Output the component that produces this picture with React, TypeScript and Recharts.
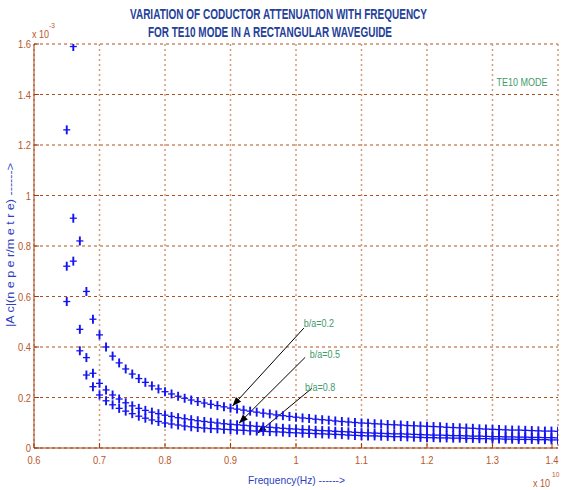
import React from 'react';
import { ScatterChart, Scatter, XAxis, YAxis, CartesianGrid, ReferenceLine, ReferenceDot } from 'recharts';

// frequency in units of 1e10 Hz
const freqs = [
  0.65, 0.66, 0.67, 0.68, 0.69, 0.7, 0.71, 0.72, 0.73, 0.74, 0.75, 0.76, 0.77, 0.78, 0.79,
  0.8, 0.81, 0.82, 0.83, 0.84, 0.85, 0.86, 0.87, 0.88, 0.89, 0.9, 0.91, 0.92, 0.93, 0.94,
  0.95, 0.96, 0.97, 0.98, 0.99, 1.0, 1.01, 1.02, 1.03, 1.04, 1.05, 1.06, 1.07, 1.08, 1.09,
  1.1, 1.11, 1.12, 1.13, 1.14, 1.15, 1.16, 1.17, 1.18, 1.19, 1.2, 1.21, 1.22, 1.23, 1.24,
  1.25, 1.26, 1.27, 1.28, 1.29, 1.3, 1.31, 1.32, 1.33, 1.34, 1.35, 1.36, 1.37, 1.38, 1.39, 1.4,
];

// attenuation in units of 1e-3 neper/metre
const ba02 = [
  1.26, 1.59, 0.82, 0.62, 0.51, 0.448, 0.4, 0.364, 0.337, 0.313, 0.293, 0.275, 0.26, 0.246, 0.234,
  0.223, 0.214, 0.205, 0.197, 0.19, 0.184, 0.178, 0.173, 0.168, 0.163, 0.158, 0.154, 0.15, 0.146, 0.142,
  0.138, 0.135, 0.131, 0.128, 0.125, 0.122, 0.119, 0.117, 0.114, 0.112, 0.11, 0.107, 0.105, 0.103, 0.101,
  0.099, 0.098, 0.096, 0.095, 0.093, 0.092, 0.091, 0.089, 0.088, 0.087, 0.086, 0.085, 0.084, 0.082, 0.081,
  0.08, 0.079, 0.078, 0.076, 0.075, 0.074, 0.073, 0.072, 0.071, 0.071, 0.07, 0.069, 0.068, 0.067, 0.067, 0.066,
];

const ba05 = [
  0.72, 0.91, 0.47, 0.358, 0.296, 0.256, 0.23, 0.21, 0.194, 0.179, 0.167, 0.157, 0.149, 0.142, 0.136,
  0.13, 0.125, 0.12, 0.116, 0.112, 0.108, 0.105, 0.102, 0.099, 0.096, 0.094, 0.092, 0.09, 0.088, 0.086,
  0.084, 0.082, 0.08, 0.078, 0.076, 0.075, 0.073, 0.072, 0.07, 0.069, 0.068, 0.066, 0.065, 0.064, 0.062,
  0.061, 0.06, 0.059, 0.058, 0.057, 0.056, 0.056, 0.055, 0.054, 0.053, 0.052, 0.051, 0.051, 0.05, 0.049,
  0.049, 0.048, 0.047, 0.047, 0.046, 0.045, 0.045, 0.044, 0.044, 0.043, 0.043, 0.042, 0.042, 0.041, 0.041, 0.04,
];

const ba08 = [
  0.58, 0.74, 0.385, 0.289, 0.243, 0.21, 0.187, 0.171, 0.157, 0.146, 0.136, 0.126, 0.118, 0.111, 0.105,
  0.099, 0.095, 0.091, 0.087, 0.084, 0.081, 0.079, 0.077, 0.076, 0.074, 0.073, 0.071, 0.07, 0.068, 0.067,
  0.066, 0.065, 0.064, 0.063, 0.061, 0.06, 0.059, 0.058, 0.057, 0.056, 0.055, 0.054, 0.053, 0.051, 0.05,
  0.049, 0.048, 0.048, 0.047, 0.046, 0.045, 0.045, 0.044, 0.043, 0.042, 0.041, 0.041, 0.04, 0.04, 0.039,
  0.039, 0.038, 0.038, 0.037, 0.037, 0.036, 0.036, 0.035, 0.035, 0.034, 0.034, 0.034, 0.033, 0.033, 0.032, 0.032,
];

const xTicks = [0.6, 0.7, 0.8, 0.9, 1, 1.1, 1.2, 1.3, 1.4];
const yTicks = [0, 0.2, 0.4, 0.6, 0.8, 1, 1.2, 1.4, 1.6];

// annotation arrows: label, label pos, arrow start, arrow tip (data units)
const notes = [
  { label: 'b/a=0.2', at: [1.035, 0.496], from: [1.012, 0.475], to: [0.903, 0.166] },
  { label: 'b/a=0.5', at: [1.044, 0.371], from: [1.014, 0.359], to: [0.913, 0.098] },
  { label: 'b/a=0.8', at: [1.037, 0.243], from: [1.024, 0.236], to: [0.941, 0.058] },
];

const toPoints = (vals: number[]) => freqs.map((f, i) => ({ x: f, y: vals[i] }));

const font = "'Liberation Sans', Arial, sans-serif";
const axisColor = '#A23C0C';
const tickColor = '#B8582A';
const green = '#3F9A6C';
const blue = '#2E3FC0';
const NARROW = 0.82;

// narrow text (mimics Arial Narrow)
const NText = ({ x, y, anchor = 'start', size = 11, color, weight, children }: any) => (
  <text
    transform={`translate(${x},${y}) scale(${NARROW},1)`}
    textAnchor={anchor}
    fill={color}
    fontSize={size}
    fontWeight={weight}
    fontFamily={font}
  >
    {children}
  </text>
);

const Plus = (props: any) => {
  const { cx, cy } = props;
  return (
    <g stroke="#1414F0">
      <line x1={cx} y1={cy - 4.5} x2={cx} y2={cy + 4.5} strokeWidth={1.9} />
      <line x1={cx - 3.5} y1={cy} x2={cx + 3.5} y2={cy} strokeWidth={1.3} />
    </g>
  );
};

const fmt = (v: number) => String(Math.round(v * 10) / 10);

const YTick = (props: any) => {
  const { x, y, payload } = props;
  return (
    <g>
      <line x1={x + 3} y1={y} x2={x + 8} y2={y} stroke={axisColor} />
      <NText x={x} y={y + 4} anchor="end" size={11.5} color={tickColor}>
        {fmt(payload.value)}
      </NText>
    </g>
  );
};

const XTick = (props: any) => {
  const { x, y, payload } = props;
  return (
    <g>
      <line x1={x} y1={y - 4} x2={x} y2={y - 9} stroke={axisColor} />
      <NText x={x} y={y + 12} anchor="middle" size={11.5} color={tickColor}>
        {fmt(payload.value)}
      </NText>
    </g>
  );
};

const Arrow = (props: any) => {
  const { x1, y1, x2, y2 } = props;
  const a = Math.atan2(y2 - y1, x2 - x1);
  const len = 9;
  const w = 3.5;
  const bx = x2 - len * Math.cos(a);
  const by = y2 - len * Math.sin(a);
  const px = -Math.sin(a) * w;
  const py = Math.cos(a) * w;
  return (
    <g>
      <line x1={x1} y1={y1} x2={x2} y2={y2} stroke="#000" strokeWidth={1} />
      <polygon points={`${x2},${y2} ${bx + px},${by + py} ${bx - px},${by - py}`} fill="#000" />
    </g>
  );
};

const Label = (text: string, color: string) => (props: any) => (
  <NText x={props.cx} y={props.cy + 4} anchor="middle" color={color}>
    {text}
  </NText>
);

export default function App() {
  return (
    <div style={{ position: 'absolute', left: 0, top: 0, width: 562, height: 490, background: '#fff' }}>
      <ScatterChart width={562} height={490} margin={{ top: 44, right: 4, left: 0, bottom: 0 }}>
        <CartesianGrid vertical={false} stroke="#B0501E" strokeDasharray="3 3" />
        <CartesianGrid horizontal={false} stroke="#D49878" strokeWidth={1.5} strokeDasharray="2 3" />
        <XAxis
          type="number"
          dataKey="x"
          domain={[0.6, 1.4]}
          ticks={xTicks}
          height={42}
          tickSize={0}
          tickMargin={4}
          tick={<XTick />}
          stroke={axisColor}
          allowDataOverflow
        />
        <YAxis
          type="number"
          dataKey="y"
          domain={[0, 1.6]}
          ticks={yTicks}
          width={34}
          tickSize={0}
          tickMargin={3}
          tick={<YTick />}
          stroke={axisColor}
          allowDataOverflow
        />
        <Scatter data={toPoints(ba02)} shape={<Plus />} isAnimationActive={false} />
        <Scatter data={toPoints(ba05)} shape={<Plus />} isAnimationActive={false} />
        <Scatter data={toPoints(ba08)} shape={<Plus />} isAnimationActive={false} />
        {notes.map((n) => (
          <ReferenceLine
            key={n.label + 'a'}
            segment={[{ x: n.from[0], y: n.from[1] }, { x: n.to[0], y: n.to[1] }]}
            shape={<Arrow />}
          />
        ))}
        {notes.map((n) => (
          <ReferenceDot key={n.label} x={n.at[0]} y={n.at[1]} r={1} shape={Label(n.label, green)} />
        ))}
        <ReferenceDot x={1.345} y={1.449} r={1} shape={Label('TE10 MODE', green)} />
      </ScatterChart>
      <svg width={562} height={490} style={{ position: 'absolute', left: 0, top: 0, pointerEvents: 'none' }}>
        <text
          x={130}
          y={19}
          textLength={297}
          lengthAdjust="spacingAndGlyphs"
          fill="#24409A"
          fontSize={14}
          fontWeight="bold"
          fontFamily={font}
        >
          VARIATION OF CODUCTOR ATTENUATION WITH FREQUENCY
        </text>
        <text
          x={148}
          y={37}
          textLength={244}
          lengthAdjust="spacingAndGlyphs"
          fill="#24409A"
          fontSize={14}
          fontWeight="bold"
          fontFamily={font}
        >
          FOR TE10 MODE IN A RECTANGULAR WAVEGUIDE
        </text>
        <NText x={32} y={38} color={tickColor}>
          x 10
        </NText>
        <NText x={49} y={28} size={8} color={tickColor}>
          -3
        </NText>
        <NText x={533} y={487} color={tickColor}>
          x 10
        </NText>
        <NText x={552} y={477} size={8} color={tickColor}>
          10
        </NText>
        <text
          x={248}
          y={484}
          textLength={97}
          lengthAdjust="spacingAndGlyphs"
          fill={blue}
          fontSize={11.5}
          fontFamily={font}
        >
          Frequency(Hz) ------&gt;
        </text>
        <text
          transform="translate(14,327) rotate(-90)"
          textLength={164}
          lengthAdjust="spacingAndGlyphs"
          fill={blue}
          fontSize={11.5}
          fontFamily={font}
        >
          |A c|(n e p e r/m e t r e) ------&gt;
        </text>
      </svg>
    </div>
  );
}
